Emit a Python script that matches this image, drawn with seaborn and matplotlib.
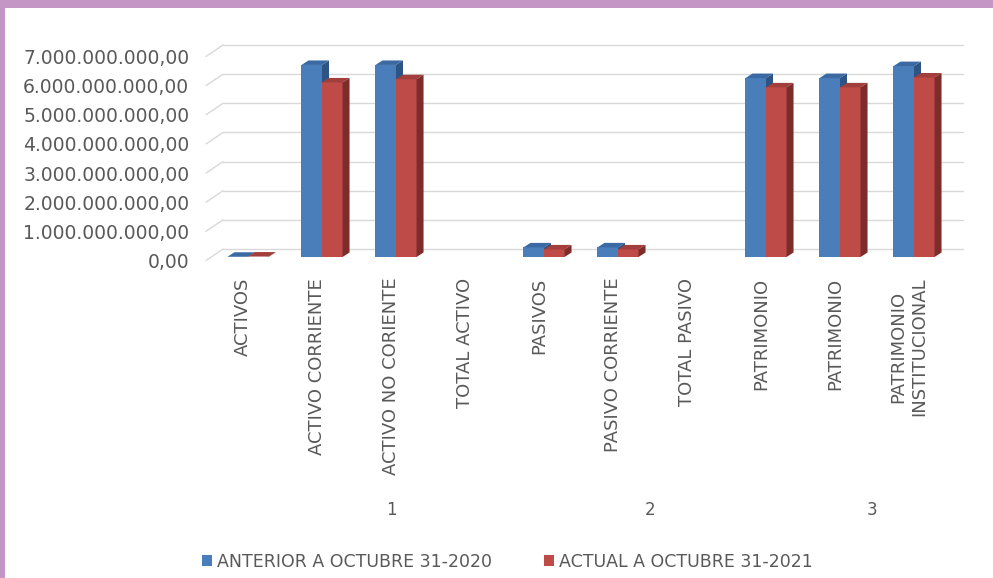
import numpy as np
import pandas as pd
import matplotlib
matplotlib.use("Agg")
import matplotlib.pyplot as plt
import seaborn as sns
from matplotlib.patches import Polygon, Rectangle, Patch
from matplotlib.lines import Line2D
from matplotlib.transforms import blended_transform_factory
from matplotlib.ticker import FuncFormatter

# ---------------- data ----------------
categories = ["ACTIVOS", "ACTIVO CORRIENTE", "ACTIVO NO CORIENTE", "TOTAL ACTIVO",
              "PASIVOS", "PASIVO CORRIENTE", "TOTAL PASIVO", "PATRIMONIO",
              "PATRIMONIO", "PATRIMONIO\nINSTITUCIONAL"]
groups = ["", "1", "1", "1", "2", "2", "2", "2", "3", "3"]
series_names = ["ANTERIOR A OCTUBRE 31-2020", "ACTUAL A OCTUBRE 31-2021"]
anterior = [8e6, 6.59e9, 6.59e9, np.nan, 0.33e9, 0.33e9, np.nan, 6.14e9, 6.14e9, 6.55e9]
actual = [15e6, 5.99e9, 6.10e9, np.nan, 0.26e9, 0.26e9, np.nan, 5.82e9, 5.82e9, 6.16e9]
yticks = [0, 1e9, 2e9, 3e9, 4e9, 5e9, 6e9, 7e9]

front_colors = ["#4A7EBB", "#BE4B48"]
top_colors = ["#3A69A3", "#A23E3B"]
side_colors = ["#2C5485", "#7C2D2B"]
text_color = "#595959"
grid_color = "#D9D9D9"

sns.set_theme(style="white")
plt.rcParams["font.family"] = ["DejaVu Sans"]

W, H, DPI = 993, 578, 100
fig = plt.figure(figsize=(W / DPI, H / DPI), dpi=DPI, facecolor="white")

# purple frame (top and left bands)
fig.patches.append(Rectangle((0, 1 - 7.5 / H), 1, 7.5 / H, transform=fig.transFigure,
                             facecolor="#C396C5", edgecolor="none", zorder=10))
fig.patches.append(Rectangle((0, 0), 5 / W, 1, transform=fig.transFigure,
                             facecolor="#C396C5", edgecolor="none", zorder=10))

# front plane of the 3D box
ax_l, ax_r, ax_t, ax_b = 206, 946, 56.5, 260.5
ax = fig.add_axes([ax_l / W, 1 - ax_b / H, (ax_r - ax_l) / W, (ax_b - ax_t) / H])
ax.set_facecolor("none")

n = len(categories)
pos = list(range(n))
df = pd.DataFrame({
    "pos": pos * 2,
    "serie": [series_names[0]] * n + [series_names[1]] * n,
    "value": anterior + actual,
}).dropna()

sns.barplot(data=df, x="pos", y="value", hue="serie", order=pos, hue_order=series_names,
            palette=front_colors, width=0.555, saturation=1, legend=False, ax=ax,
            linewidth=0, edgecolor="none")

ax.set_xlim(-0.5, n - 0.5)
ax.set_ylim(0, 7e9)

# pixel -> data conversions
p0 = ax.transData.transform((0, 0))
p1 = ax.transData.transform((1, 1e9))
px_x = p1[0] - p0[0]          # pixels per category unit
px_y = (p1[1] - p0[1]) / 1e9  # pixels per value unit

def dx(px):
    return px / px_x

def dy(px):
    return px / px_y

# back wall gridlines + left wall diagonals
wall_dx, wall_dy = 17, 11.5
x0, x1 = ax.get_xlim()
for v in yticks:
    ax.add_line(Line2D([x0 + dx(wall_dx), x1 + dx(wall_dx)], [v + dy(wall_dy)] * 2,
                       color=grid_color, lw=1.0, zorder=0, clip_on=False))
    ax.add_line(Line2D([x0, x0 + dx(wall_dx)], [v, v + dy(wall_dy)],
                       color=grid_color, lw=1.0, zorder=0, clip_on=False))

# 3D bars: shift front faces to mid-depth and add top / side faces
shift_x, shift_y = 5, 3.5
depth_x, depth_y = 7, 4.5
bars = [p for p in ax.patches if isinstance(p, Rectangle)]
for b in bars:
    fc = matplotlib.colors.to_hex(b.get_facecolor())
    k = 0 if fc.lower() == front_colors[0].lower() else 1
    x = b.get_x() + dx(shift_x)
    w = b.get_width()
    h = b.get_height()
    y = dy(shift_y)
    b.set_x(x)
    b.set_y(y)
    b.set_zorder(2 + k)
    b.set_clip_on(False)
    ddx, ddy = dx(depth_x), dy(depth_y)
    top = Polygon([(x, y + h), (x + w, y + h), (x + w + ddx, y + h + ddy), (x + ddx, y + h + ddy)],
                  closed=True, facecolor=top_colors[k], edgecolor="none", zorder=2 + k, clip_on=False)
    side = Polygon([(x + w, y), (x + w + ddx, y + ddy), (x + w + ddx, y + h + ddy), (x + w, y + h)],
                   closed=True, facecolor=side_colors[k], edgecolor="none", zorder=2 + k, clip_on=False)
    ax.add_patch(top)
    ax.add_patch(side)

# axes styling
for s in ax.spines.values():
    s.set_visible(False)
ax.set_yticks(yticks)
ax.yaxis.set_major_formatter(FuncFormatter(
    lambda v, _: f"{v:,.2f}".replace(",", "X").replace(".", ",").replace("X", ".")))
ax.tick_params(axis="y", length=0, pad=12, labelsize=13.5, labelcolor=text_color)
ax.set_xticks(pos)
ax.set_xticklabels(categories, rotation=90, va="top", ha="center", multialignment="center")
ax.tick_params(axis="x", length=0, pad=12.5, labelsize=13, labelcolor=text_color)
ax.set_xlabel("")
ax.set_ylabel("")
ax.grid(False)

# group labels (multi-level axis)
trans = blended_transform_factory(ax.transData, fig.transFigure)
for g in sorted(set(groups) - {""}):
    idx = [i for i, gg in enumerate(groups) if gg == g]
    ax.text(np.mean(idx), 1 - 510 / H, g, transform=trans, ha="center", va="center",
            fontsize=12, color=text_color)

# legend
handles = [Patch(facecolor=c, edgecolor="none") for c in front_colors]
fig.legend(handles, series_names, loc="center", bbox_to_anchor=(0.511, 1 - 562 / H), ncol=2,
           frameon=False, handlelength=0.58, handleheight=0.58, handletextpad=0.3,
           columnspacing=3.0, fontsize=12.5, labelcolor=text_color)

fig.savefig("out.png", dpi=DPI, facecolor="white")
